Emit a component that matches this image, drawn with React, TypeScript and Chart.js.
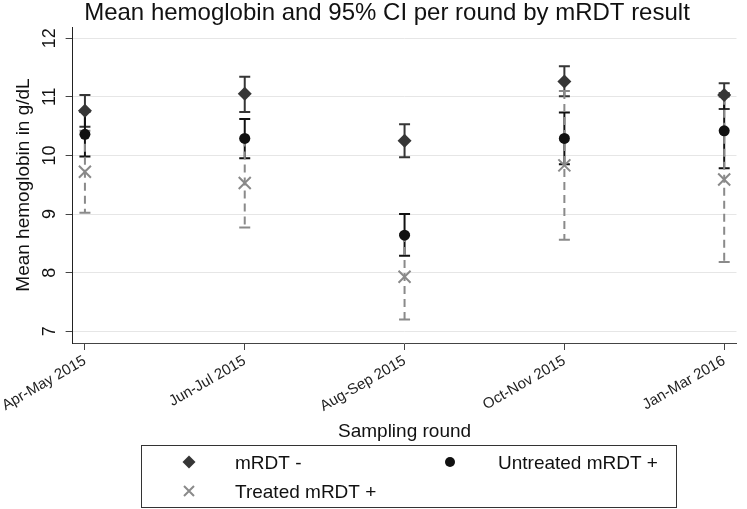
import React, { useEffect, useRef } from 'react';
import { Chart, registerables } from 'chart.js';

Chart.register(...registerables);

const categories = ['Apr-May 2015', 'Jun-Jul 2015', 'Aug-Sep 2015', 'Oct-Nov 2015', 'Jan-Mar 2016'];
const xPositions = [1, 2, 3, 4, 5];
const yTicks = [7, 8, 9, 10, 11, 12];

const negMean = [10.76, 11.05, 10.25, 11.26, 11.03];
const negLow = [10.49, 10.74, 9.97, 11.01, 10.79];
const negHigh = [11.03, 11.34, 10.53, 11.52, 11.23];

const untMean = [10.36, 10.29, 8.64, 10.29, 10.42];
const untLow = [9.98, 9.95, 8.29, 9.85, 9.78];
const untHigh = [10.74, 10.62, 9.0, 10.73, 11.06];

const trtMean = [9.72, 9.53, 7.93, 9.83, 9.59];
const trtLow = [9.02, 8.77, 7.2, 8.56, 8.18];
const trtHigh = [10.42, 10.29, 8.66, 11.1, 11.0];

const seriesLabels = ['mRDT -', 'Untreated mRDT +', 'Treated mRDT +'];
const titleText = 'Mean hemoglobin and 95% CI per round by mRDT result';
const yTitle = 'Mean hemoglobin in g/dL';
const xTitle = 'Sampling round';

const FONT = '"Liberation Sans", Arial, Helvetica, sans-serif';
const NEG_COLOR = '#363636';
const UNT_COLOR = '#111111';
const TRT_COLOR = '#8a8a8a';

export default function App() {
  const ref = useRef<HTMLCanvasElement>(null);

  useEffect(() => {
    const canvas = ref.current;
    if (!canvas) return;

    const ciSeries = [
      { low: negLow, high: negHigh, color: NEG_COLOR, dash: [] as number[] },
      { low: untLow, high: untHigh, color: UNT_COLOR, dash: [] as number[] },
      { low: trtLow, high: trtHigh, color: TRT_COLOR, dash: [8, 5] },
    ];

    const ciPlugin = {
      id: 'ciBars',
      beforeDatasetsDraw(chart: any) {
        const { ctx, scales } = chart;
        const x = scales.x;
        const y = scales.y;
        ctx.save();
        ctx.lineWidth = 2;
        ciSeries.forEach((s) => {
          xPositions.forEach((xv, i) => {
            const px = x.getPixelForValue(xv);
            const pl = y.getPixelForValue(s.low[i]);
            const ph = y.getPixelForValue(s.high[i]);
            ctx.strokeStyle = s.color;
            ctx.setLineDash(s.dash);
            ctx.beginPath();
            ctx.moveTo(px, ph);
            ctx.lineTo(px, pl);
            ctx.stroke();
            ctx.setLineDash([]);
            ctx.beginPath();
            ctx.moveTo(px - 5.5, ph);
            ctx.lineTo(px + 5.5, ph);
            ctx.moveTo(px - 5.5, pl);
            ctx.lineTo(px + 5.5, pl);
            ctx.stroke();
          });
        });
        ctx.restore();
      },
    };

    const textPlugin = {
      id: 'texts',
      afterDraw(chart: any) {
        const { ctx, scales, chartArea } = chart;
        const y = scales.y;
        ctx.save();
        ctx.fillStyle = '#111';
        // title
        ctx.font = `24px ${FONT}`;
        ctx.textAlign = 'center';
        ctx.textBaseline = 'alphabetic';
        ctx.fillText(titleText, 387, 20);
        // y tick labels (rotated)
        ctx.font = `18px ${FONT}`;
        yTicks.forEach((v) => {
          const py = y.getPixelForValue(v);
          ctx.save();
          ctx.translate(55, py);
          ctx.rotate(-Math.PI / 2);
          ctx.textAlign = 'center';
          ctx.fillText(String(v), 0, 0);
          ctx.restore();
        });
        // y title
        ctx.font = `19px ${FONT}`;
        ctx.save();
        ctx.translate(29, (chartArea.top + chartArea.bottom) / 2);
        ctx.rotate(-Math.PI / 2);
        ctx.textAlign = 'center';
        ctx.fillText(yTitle, 0, 0);
        ctx.restore();
        // x title
        ctx.textAlign = 'center';
        ctx.fillText(xTitle, (chartArea.left + chartArea.right) / 2, 437);

        // legend box
        ctx.strokeStyle = '#333';
        ctx.lineWidth = 1;
        ctx.strokeRect(141.5, 445.5, 535, 62);
        ctx.textAlign = 'left';
        ctx.font = `19px ${FONT}`;
        const r1 = 462;
        const r2 = 491;
        // diamond
        ctx.fillStyle = NEG_COLOR;
        ctx.beginPath();
        ctx.moveTo(189, r1 - 6.5);
        ctx.lineTo(195.5, r1);
        ctx.lineTo(189, r1 + 6.5);
        ctx.lineTo(182.5, r1);
        ctx.closePath();
        ctx.fill();
        ctx.fillStyle = '#111';
        ctx.fillText(seriesLabels[0], 235, r1 + 7);
        // circle
        ctx.fillStyle = UNT_COLOR;
        ctx.beginPath();
        ctx.arc(450, r1, 5, 0, Math.PI * 2);
        ctx.fill();
        ctx.fillStyle = '#111';
        ctx.fillText(seriesLabels[1], 498, r1 + 7);
        // cross
        ctx.strokeStyle = TRT_COLOR;
        ctx.lineWidth = 2;
        ctx.beginPath();
        ctx.moveTo(184, r2 - 5);
        ctx.lineTo(194, r2 + 5);
        ctx.moveTo(194, r2 - 5);
        ctx.lineTo(184, r2 + 5);
        ctx.stroke();
        ctx.fillStyle = '#111';
        ctx.fillText(seriesLabels[2], 235, r2 + 7);
        ctx.restore();
      },
    };

    const chart = new Chart(canvas, {
      type: 'scatter',
      data: {
        datasets: [
          {
            label: seriesLabels[0],
            data: xPositions.map((x, i) => ({ x, y: negMean[i] })),
            pointStyle: 'rectRot',
            pointRadius: 7,
            backgroundColor: NEG_COLOR,
            borderColor: NEG_COLOR,
            borderWidth: 0,
          },
          {
            label: seriesLabels[1],
            data: xPositions.map((x, i) => ({ x, y: untMean[i] })),
            pointStyle: 'circle',
            pointRadius: 5.5,
            backgroundColor: UNT_COLOR,
            borderColor: UNT_COLOR,
            borderWidth: 0,
          },
          {
            label: seriesLabels[2],
            data: xPositions.map((x, i) => ({ x, y: trtMean[i] })),
            pointStyle: 'crossRot',
            pointRadius: 8.5,
            backgroundColor: TRT_COLOR,
            borderColor: TRT_COLOR,
            borderWidth: 2,
          },
        ],
      },
      options: {
        responsive: false,
        animation: false,
        events: [],
        layout: { padding: { top: 27, right: 1.5, bottom: 0, left: 0 } },
        plugins: {
          legend: { display: false },
          title: { display: false },
          tooltip: { enabled: false },
        },
        scales: {
          x: {
            type: 'linear',
            min: 0.923,
            max: 5.077,
            afterBuildTicks: (s: any) => {
              s.ticks = xPositions.map((v) => ({ value: v }));
            },
            afterFit: (s: any) => {
              s.height = 166;
            },
            grid: {
              drawOnChartArea: false,
              drawTicks: true,
              tickLength: 7,
              tickColor: '#444',
              tickWidth: 1,
            },
            border: { color: '#444', width: 1 },
            ticks: {
              autoSkip: false,
              minRotation: 30,
              maxRotation: 30,
              padding: 2,
              color: '#222',
              font: { family: FONT, size: 15 },
              callback: (_v: any, index: number) => categories[index],
            },
          },
          y: {
            type: 'linear',
            min: 6.8,
            max: 12.19,
            afterBuildTicks: (s: any) => {
              s.ticks = yTicks.map((v) => ({ value: v }));
            },
            afterFit: (s: any) => {
              s.width = 72;
            },
            grid: {
              color: '#e6e6e6',
              lineWidth: 1,
              drawTicks: true,
              tickLength: 7,
              tickColor: '#444',
            },
            border: { color: '#222', width: 1 },
            ticks: { display: false },
          },
        },
      },
      plugins: [ciPlugin, textPlugin],
    });

    return () => chart.destroy();
  }, []);

  return (
    <div style={{ position: 'absolute', left: 0, top: 0, width: 747, height: 509, background: '#fff' }}>
      <canvas ref={ref} width={747} height={509} style={{ width: 747, height: 509, display: 'block' }} />
    </div>
  );
}
